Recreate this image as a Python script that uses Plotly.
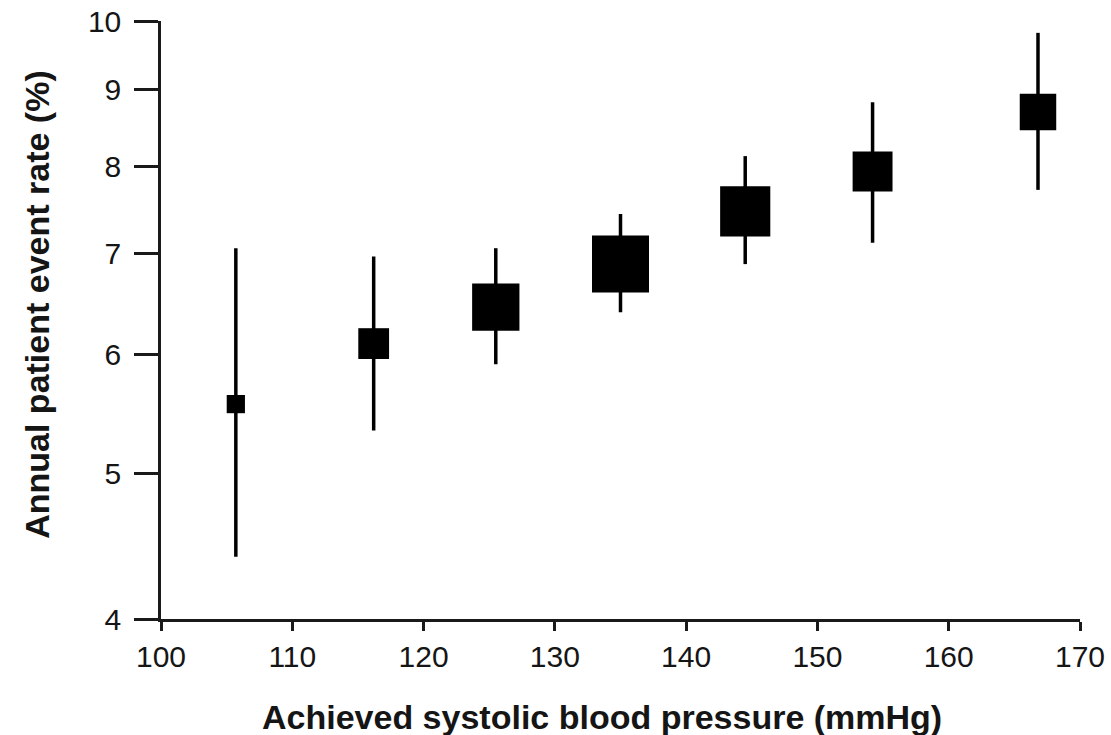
import numpy as np
import plotly.graph_objects as go

# Achieved systolic blood pressure groups (mmHg)
sbp = [105.7, 116.2, 125.5, 135.0, 144.5, 154.2, 166.8]
# Annual patient event rate (%) with 95% confidence limits
event_rate = [5.56, 6.10, 6.45, 6.89, 7.47, 7.94, 8.70]
ci_upper = [7.06, 6.97, 7.06, 7.44, 8.13, 8.83, 9.82]
ci_lower = [4.40, 5.34, 5.91, 6.40, 6.89, 7.12, 7.72]
# Relative weight of each group (square size scales with it)
weight = [0.32, 0.54, 0.83, 1.00, 0.88, 0.70, 0.64]

y_ticks = [4, 5, 6, 7, 8, 9, 10]
x_ticks = [100, 110, 120, 130, 140, 150, 160, 170]

err_plus = [u - m for u, m in zip(ci_upper, event_rate)]
err_minus = [m - l for m, l in zip(event_rate, ci_lower)]
max_square = 57
square_sizes = [max_square * w for w in weight]

fig = go.Figure()
fig.add_trace(go.Scatter(
    x=sbp,
    y=event_rate,
    mode="markers",
    marker=dict(symbol="square", size=square_sizes, color="black",
                opacity=1, line=dict(width=0)),
    error_y=dict(type="data", symmetric=False, array=err_plus,
                 arrayminus=err_minus, color="black", thickness=3.5, width=0),
    cliponaxis=False,
    showlegend=False,
))

tick_font = dict(family="Liberation Sans, Arial, sans-serif", size=30, color="#151515")
title_font = dict(family="Liberation Sans, Arial, sans-serif", size=34, color="#151515")

fig.update_xaxes(
    range=[100, 170],
    tickvals=x_ticks,
    ticktext=[str(v) for v in x_ticks],
    ticks="outside", ticklen=9, tickwidth=2.5, tickcolor="#1a1a1a",
    showline=True, linewidth=2.5, linecolor="#1a1a1a",
    showgrid=False, zeroline=False, automargin=False,
    tickfont=tick_font,
)
fig.update_yaxes(
    type="log",
    range=[np.log10(4), np.log10(10)],
    tickvals=y_ticks,
    ticktext=[str(v) for v in y_ticks],
    ticks="outside", ticklen=24, tickwidth=2.5, tickcolor="#1a1a1a",
    ticklabelstandoff=7,
    showline=True, linewidth=2.5, linecolor="#1a1a1a",
    showgrid=False, zeroline=False, automargin=False,
    tickfont=tick_font,
)

fig.add_annotation(
    text="<b>Achieved systolic blood pressure (mmHg)</b>",
    xref="paper", yref="paper", x=0.48, y=-0.164,
    xanchor="center", yanchor="middle", showarrow=False, font=title_font,
)
fig.add_annotation(
    text="<b>Annual patient event rate (%)</b>",
    xref="paper", yref="paper", x=-0.135, y=0.527, textangle=-90,
    xanchor="center", yanchor="middle", showarrow=False, font=title_font,
)

fig.update_layout(
    width=1111, height=735,
    margin=dict(l=161, r=31, t=21, b=116, autoexpand=False),
    paper_bgcolor="white", plot_bgcolor="white",
)

fig.write_html("out.html")
